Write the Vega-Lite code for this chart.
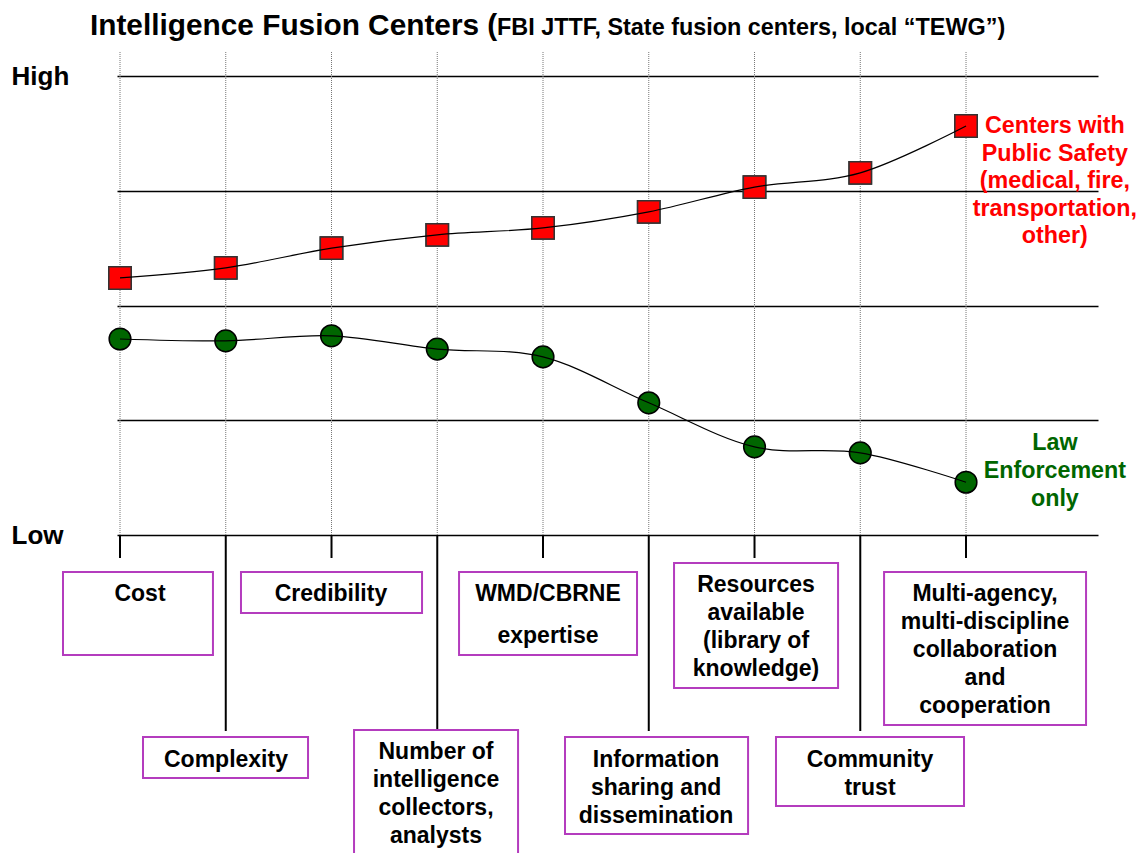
{
  "$schema": "https://vega.github.io/schema/vega-lite/v6.json",
  "width": 981,
  "height": 459,
  "autosize": {"type": "none"},
  "padding": {"left": 117, "top": 76, "right": 47, "bottom": 318},
  "background": "white",
  "config": {"view": {"stroke": null}, "font": "Liberation Sans"},
  "datasets": {
    "series": [
      {"idx": 1, "series": "Public Safety", "value": 56.0},
      {"idx": 2, "series": "Public Safety", "value": 58.2},
      {"idx": 3, "series": "Public Safety", "value": 62.5},
      {"idx": 4, "series": "Public Safety", "value": 65.4},
      {"idx": 5, "series": "Public Safety", "value": 66.9},
      {"idx": 6, "series": "Public Safety", "value": 70.4},
      {"idx": 7, "series": "Public Safety", "value": 75.8},
      {"idx": 8, "series": "Public Safety", "value": 78.9},
      {"idx": 9, "series": "Public Safety", "value": 89.1},
      {"idx": 1, "series": "Law Enforcement", "value": 42.7},
      {"idx": 2, "series": "Law Enforcement", "value": 42.3},
      {"idx": 3, "series": "Law Enforcement", "value": 43.4},
      {"idx": 4, "series": "Law Enforcement", "value": 40.5},
      {"idx": 5, "series": "Law Enforcement", "value": 38.8},
      {"idx": 6, "series": "Law Enforcement", "value": 28.8},
      {"idx": 7, "series": "Law Enforcement", "value": 19.2},
      {"idx": 8, "series": "Law Enforcement", "value": 17.9},
      {"idx": 9, "series": "Law Enforcement", "value": 11.5}
    ],
    "boxes": [
      {"idx": 1, "label": "Cost", "x0": 0.461, "x1": 1.879, "yTop": -8.06, "yBot": -26.14, "textX": 1.189, "textY": -10.46, "tickEnd": -5.01},
      {"idx": 2, "label": "Complexity", "x0": 1.2175, "x1": 2.778, "yTop": -44.01, "yBot": -52.94, "textX": 2.002, "textY": -46.62, "tickEnd": -42.7},
      {"idx": 3, "label": "Credibility", "x0": 2.144, "x1": 3.856, "yTop": -8.06, "yBot": -16.99, "textX": 2.995, "textY": -10.46, "tickEnd": -5.01},
      {"idx": 4, "label": "Number of\nintelligence\ncollectors,\nanalysts", "x0": 3.213, "x1": 4.764, "yTop": -42.48, "yBot": -70.37, "textX": 3.988, "textY": -44.88, "tickEnd": -42.48},
      {"idx": 5, "label": "WMD/CBRNE\nexpertise", "x0": 4.206, "x1": 5.889, "yTop": -8.06, "yBot": -26.14, "textX": 5.047, "textY": -10.46, "tickEnd": -5.01},
      {"idx": 6, "label": "Information\nsharing and\ndissemination", "x0": 5.208, "x1": 6.939, "yTop": -44.01, "yBot": -65.14, "textX": 6.069, "textY": -46.62, "tickEnd": -42.7},
      {"idx": 7, "label": "Resources\navailable\n(library of\nknowledge)", "x0": 6.239, "x1": 7.79, "yTop": -6.1, "yBot": -33.33, "textX": 7.014, "textY": -8.5, "tickEnd": -5.01},
      {"idx": 8, "label": "Community\ntrust", "x0": 7.203, "x1": 8.981, "yTop": -44.01, "yBot": -59.04, "textX": 8.092, "textY": -46.62, "tickEnd": -42.7},
      {"idx": 9, "label": "Multi-agency,\nmulti-discipline\ncollaboration\nand\ncooperation", "x0": 8.225, "x1": 10.135, "yTop": -8.06, "yBot": -41.39, "textX": 9.18, "textY": -10.46, "tickEnd": -5.01}
    ],
    "notes": [
      {"key": "title", "text": "Intelligence Fusion Centers (", "x": 0.716, "y": 108.93},
      {"key": "subtitle", "text": "FBI JTTF, State fusion centers, local “TEWG”)", "x": 4.565, "y": 108.93},
      {"key": "ps", "text": "Centers with\nPublic Safety\n(medical, fire,\ntransportation,\nother)", "x": 9.84, "y": 91.5},
      {"key": "le", "text": "Law\nEnforcement\nonly", "x": 9.84, "y": 22.44}
    ]
  },
  "layer": [
    {
      "data": {"name": "series"},
      "transform": [{"filter": "datum.series == 'Public Safety'"}],
      "mark": {"type": "point", "shape": "square", "filled": true, "fill": "#ff0000", "stroke": "#333333", "strokeWidth": 1.5, "size": 500, "opacity": 1},
      "encoding": {
        "x": {"field": "idx", "type": "quantitative", "scale": {"domain": [0.9716, 10.248], "nice": false, "zero": false}, "axis": null},
        "y": {
          "field": "value", "type": "quantitative",
          "scale": {"domain": [0, 100], "nice": false, "zero": false},
          "axis": {
            "values": [0, 25, 50, 75, 100],
            "grid": true, "gridColor": "black", "gridWidth": 1.5, "gridOpacity": 1,
            "domain": false, "ticks": false, "tickSize": 0,
            "labelPadding": 106, "labelAlign": "left", "labelBaseline": "middle",
            "labelFont": "Liberation Sans", "labelFontWeight": "bold", "labelFontSize": 26, "labelColor": "black",
            "labelExpr": "datum.value == 100 ? 'High' : datum.value == 0 ? 'Low' : ''",
            "labelFlush": false, "labelOverlap": false, "title": null
          }
        }
      }
    },
    {
      "data": {"name": "boxes"},
      "mark": {"type": "rule", "color": "#777777", "strokeWidth": 1, "strokeDash": [1, 1]},
      "encoding": {
        "x": {"field": "idx", "type": "quantitative"},
        "y": {"datum": 0, "type": "quantitative"},
        "y2": {"datum": 105.23}
      }
    },
    {
      "data": {"name": "boxes"},
      "mark": {"type": "rule", "color": "black", "strokeWidth": 2},
      "encoding": {
        "x": {"field": "idx", "type": "quantitative"},
        "y": {"field": "tickEnd", "type": "quantitative"},
        "y2": {"datum": 0}
      }
    },
    {
      "data": {"name": "boxes"},
      "mark": {"type": "rect", "fill": "white", "stroke": "#b43cbe", "strokeWidth": 2},
      "encoding": {
        "x": {"field": "x0", "type": "quantitative"},
        "x2": {"field": "x1"},
        "y": {"field": "yTop", "type": "quantitative"},
        "y2": {"field": "yBot"}
      }
    },
    {
      "data": {"name": "boxes"},
      "transform": [{"filter": "datum.idx != 5"}],
      "mark": {"type": "text", "align": "center", "baseline": "top", "lineBreak": "\n", "fontSize": 23, "fontWeight": "bold", "lineHeight": 28, "color": "black", "font": "Liberation Sans"},
      "encoding": {
        "x": {"field": "textX", "type": "quantitative"},
        "y": {"field": "textY", "type": "quantitative"},
        "text": {"field": "label", "type": "nominal"}
      }
    },
    {
      "data": {"name": "boxes"},
      "transform": [{"filter": "datum.idx == 5"}],
      "mark": {"type": "text", "align": "center", "baseline": "top", "lineBreak": "\n", "fontSize": 23, "fontWeight": "bold", "lineHeight": 42, "color": "black", "font": "Liberation Sans"},
      "encoding": {
        "x": {"field": "textX", "type": "quantitative"},
        "y": {"field": "textY", "type": "quantitative"},
        "text": {"field": "label", "type": "nominal"}
      }
    },
    {
      "data": {"name": "series"},
      "transform": [{"filter": "datum.series == 'Public Safety'"}],
      "mark": {"type": "point", "shape": "square", "filled": true, "fill": "#ff0000", "stroke": "#333333", "strokeWidth": 1.5, "size": 500, "opacity": 1},
      "encoding": {
        "x": {"field": "idx", "type": "quantitative"},
        "y": {"field": "value", "type": "quantitative"}
      }
    },
    {
      "data": {"name": "series"},
      "transform": [{"filter": "datum.series == 'Law Enforcement'"}],
      "mark": {"type": "point", "shape": "circle", "filled": true, "fill": "#006600", "stroke": "#000000", "strokeWidth": 1.5, "size": 470, "opacity": 1},
      "encoding": {
        "x": {"field": "idx", "type": "quantitative"},
        "y": {"field": "value", "type": "quantitative"}
      }
    },
    {
      "data": {"name": "series"},
      "mark": {"type": "line", "color": "black", "strokeWidth": 1.2, "interpolate": "cardinal"},
      "encoding": {
        "x": {"field": "idx", "type": "quantitative"},
        "y": {"field": "value", "type": "quantitative"},
        "detail": {"field": "series", "type": "nominal"}
      }
    },
    {
      "data": {"name": "notes"},
      "transform": [{"filter": "datum.key == 'title'"}],
      "mark": {"type": "text", "align": "left", "baseline": "alphabetic", "fontSize": 29.8, "fontWeight": "bold", "color": "black", "font": "Liberation Sans"},
      "encoding": {
        "x": {"field": "x", "type": "quantitative"},
        "y": {"field": "y", "type": "quantitative"},
        "text": {"field": "text", "type": "nominal"}
      }
    },
    {
      "data": {"name": "notes"},
      "transform": [{"filter": "datum.key == 'subtitle'"}],
      "mark": {"type": "text", "align": "left", "baseline": "alphabetic", "fontSize": 23.4, "fontWeight": "bold", "color": "black", "font": "Liberation Sans"},
      "encoding": {
        "x": {"field": "x", "type": "quantitative"},
        "y": {"field": "y", "type": "quantitative"},
        "text": {"field": "text", "type": "nominal"}
      }
    },
    {
      "data": {"name": "notes"},
      "transform": [{"filter": "datum.key == 'ps'"}],
      "mark": {"type": "text", "align": "center", "baseline": "top", "lineBreak": "\n", "lineHeight": 27.5, "fontSize": 23.3, "fontWeight": "bold", "color": "#ff0000", "font": "Liberation Sans"},
      "encoding": {
        "x": {"field": "x", "type": "quantitative"},
        "y": {"field": "y", "type": "quantitative"},
        "text": {"field": "text", "type": "nominal"}
      }
    },
    {
      "data": {"name": "notes"},
      "transform": [{"filter": "datum.key == 'le'"}],
      "mark": {"type": "text", "align": "center", "baseline": "top", "lineBreak": "\n", "lineHeight": 28, "fontSize": 23.3, "fontWeight": "bold", "color": "#006600", "font": "Liberation Sans"},
      "encoding": {
        "x": {"field": "x", "type": "quantitative"},
        "y": {"field": "y", "type": "quantitative"},
        "text": {"field": "text", "type": "nominal"}
      }
    }
  ]
}
